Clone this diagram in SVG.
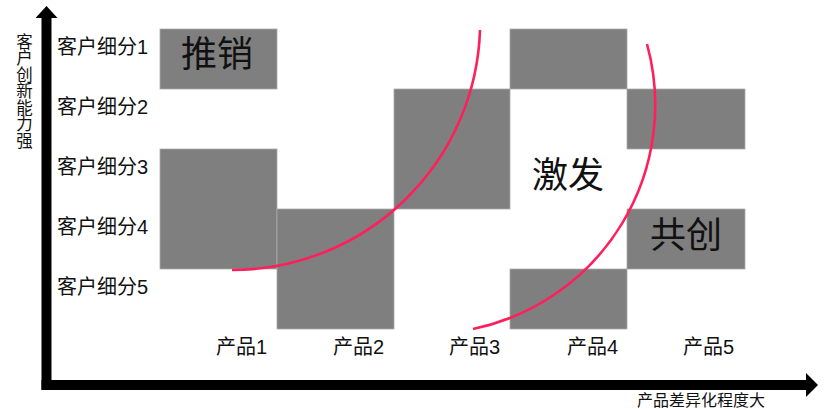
<svg xmlns="http://www.w3.org/2000/svg" width="830" height="409" viewBox="0 0 830 409">
<style>
.cell{fill:#7f7f7f;stroke:#ababab;stroke-width:0.8}
.t{font-family:"Liberation Sans","Noto Sans CJK SC",sans-serif;fill:#111}
.lab{font-size:20px}
.big{font-size:36px;text-anchor:middle}
.curve{fill:none;stroke:#ff1f5c;stroke-width:2.6}
.axis{stroke:#000;stroke-width:10;fill:none}
</style>
<rect width="830" height="409" fill="#fff"/>
<g id="cells">
<g id="cell-p1-s1"><rect class="cell" x="160" y="29" width="117" height="60"/><text class="t big" x="217" y="67">推销</text></g>
<g id="cell-p1-s34"><rect class="cell" x="160" y="149" width="117" height="120"/></g>
<g id="cell-p2-s45"><rect class="cell" x="277" y="209" width="117" height="120"/></g>
<g id="cell-p3-s23"><rect class="cell" x="394" y="89" width="116" height="120"/></g>
<g id="cell-p4-s1"><rect class="cell" x="510" y="29" width="117" height="60"/></g>
<g id="cell-p5-s2"><rect class="cell" x="627" y="89" width="118" height="60"/></g>
<g id="cell-p5-s4"><rect class="cell" x="627" y="209" width="118" height="60"/><text class="t big" x="686" y="248">共创</text></g>
<g id="cell-p4-s5"><rect class="cell" x="510" y="269" width="117" height="60"/></g>
</g>
<g id="label-jifa"><text class="t big" x="568" y="188">激发</text></g>
<g id="connectors">
<path class="curve" d="M232,270 A248,248 0 0 0 480,30"/>
<path class="curve" d="M473,329 A229,229 0 0 0 647,44"/>
</g>
<g id="axes">
<path class="axis" d="M46.5,390 V17"/>
<polygon points="46.5,6 35.5,18 57.5,18" fill="#000"/>
<path class="axis" d="M41.5,385 H808"/>
<polygon points="818,385 806,373 806,397" fill="#000"/>
</g>
<g id="row-labels" class="t lab">
<text x="57" y="54">客户细分1</text>
<text x="57" y="114">客户细分2</text>
<text x="57" y="174">客户细分3</text>
<text x="57" y="234">客户细分4</text>
<text x="57" y="294">客户细分5</text>
</g>
<g id="col-labels" class="t lab">
<text x="216" y="354">产品1</text>
<text x="333" y="354">产品2</text>
<text x="449" y="354">产品3</text>
<text x="567" y="354">产品4</text>
<text x="683" y="354">产品5</text>
</g>
<g id="axis-labels">
<text class="t" x="23.5" y="33" font-size="16.5" writing-mode="vertical-rl">客户创新能力强</text>
<text class="t" x="637" y="406" font-size="16">产品差异化程度大</text>
</g>
</svg>
